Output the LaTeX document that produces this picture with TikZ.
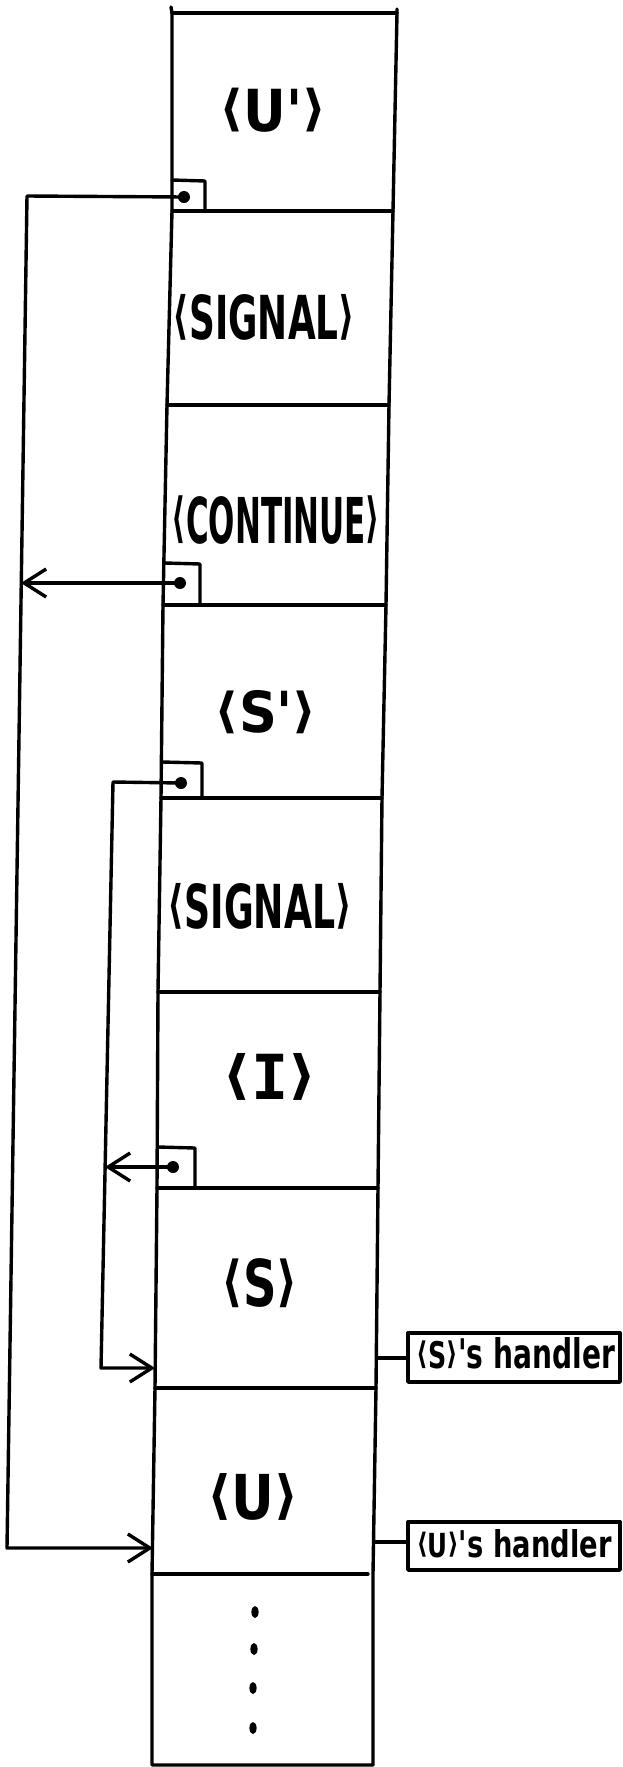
\documentclass[tikz,border=0pt]{standalone}
\usepackage{fontspec}
\usepackage{graphicx}
\setmainfont{DejaVu Sans}
\newfontfamily\monofam{DejaVu Sans Mono}
\usetikzlibrary{arrows.meta}
\newcommand{\lbr}{\raisebox{0.1em}{\scalebox{1}[0.85]{⟨}}}
\newcommand{\rbr}{\raisebox{0.1em}{\scalebox{1}[0.85]{⟩}}}
\newcommand{\celltext}[3]{\resizebox*{#2pt}{#3pt}{\bfseries #1}}
\newcommand{\handtext}[3]{\resizebox{#2pt}{#3pt}{\bfseries #1}}
\begin{document}
\begin{tikzpicture}[x=1pt,y=-1pt,line width=3.4pt,line cap=round,line join=round,
  ptrdot/.style={circle,fill=black,inner sep=0pt,minimum size=12pt},
  lab/.style={inner sep=0pt,anchor=center},
  hlab/.style={inner sep=0pt,anchor=base},
  handler/.style={draw,line width=3.4pt,inner sep=0pt,minimum width=212pt},
  barb/.style={-{Straight Barb[length=22pt,width=28pt,line width=3.4pt]}},
  dotmark/.style={fill=black}]
\useasboundingbox (0,0) rectangle (622,1767);
% column edge coordinates
\coordinate (L0) at (172,13);   \coordinate (R0) at (397,13);
\coordinate (L1) at (172,211);  \coordinate (R1) at (393,211);
\coordinate (L2) at (167,405);  \coordinate (R2) at (389,405);
\coordinate (L3) at (163,605);  \coordinate (R3) at (386,605);
\coordinate (L4) at (161,798);  \coordinate (R4) at (382,798);
\coordinate (L5) at (158,992);  \coordinate (R5) at (380,992);
\coordinate (L6) at (157,1188); \coordinate (R6) at (378,1188);
\coordinate (L7) at (155,1388); \coordinate (R7) at (376,1388);
\coordinate (L8) at (152,1574); \coordinate (R8) at (373,1574);
\coordinate (L9) at (152,1765); \coordinate (R9) at (373,1765);
% column outline
\draw (171,7) -- (L0) -- (L1) -- (L2) -- (L3) -- (L4) -- (L5) -- (L6) -- (L7) -- (L8) -- (L9) -- (R9);
\draw (397,9) -- (R0) -- (R1) -- (R2) -- (R3) -- (R4) -- (R5) -- (R6) -- (R7) -- (R8) -- (R9);
\draw (L0) -- (R0);
\draw (L1) -- (R1);
\draw (L2) -- (R2);
\draw (L3) -- (R3);
\draw (L4) -- (R4);
\draw (L5) -- (R5);
\draw (L6) -- (R6);
\draw (L7) -- (R7);
\draw (L8) -- (368,1574);
% cell labels
\node[lab] (uprime) at (273,110)  {\celltext{\lbr U\textquotesingle\rbr}{107}{44}};
\node[lab] (sig1)   at (264,317)  {\celltext{\lbr SIGNAL\rbr}{182}{46}};
\node[lab] (cont)   at (276,520)  {\celltext{\lbr CONTINUE\rbr}{208}{48}};
\node[lab] (sprime) at (266,712)  {\celltext{\lbr S\textquotesingle\rbr}{102}{43}};
\node[lab] (sig2)   at (260,906)  {\celltext{\lbr SIGNAL\rbr}{184}{46}};
\node[lab] (ilab)   at (270,1077) {\celltext{\lbr{\monofam I}\rbr}{94}{47}};
\node[lab] (slab)   at (260,1283) {\celltext{\lbr S\rbr}{76}{49}};
\node[lab] (ulab)   at (253,1497) {\celltext{\lbr U\rbr}{91}{47}};
% ellipsis dots
\fill[dotmark] (255,1612) ellipse [x radius=3.6pt,y radius=6pt];
\fill[dotmark] (254,1649) ellipse [x radius=3.6pt,y radius=6pt];
\fill[dotmark] (253,1688) ellipse [x radius=3.6pt,y radius=6pt];
\fill[dotmark] (253,1728) ellipse [x radius=3.6pt,y radius=6pt];
% pointer boxes
\draw (172,180) -- (205,181) -- (205,211);
\draw (165,563) -- (200,564) -- (200,605);
\draw (162,762) -- (202,763) -- (202,798);
\draw (158,1147) -- (195,1148) -- (195,1188);
\node[ptrdot] (p1) at (184,197) {};
\node[ptrdot] (p2) at (180,583) {};
\node[ptrdot] (p3) at (181,783) {};
\node[ptrdot] (p4) at (173,1167) {};
% connector coordinates
\coordinate (oTop) at (27,196);
\coordinate (oBot) at (7,1548);
\coordinate (uIn)  at (153,1548);
\coordinate (oHit) at (21,583);
\coordinate (mTop) at (113,782);
\coordinate (mBot) at (101,1368);
\coordinate (sIn)  at (155,1368);
\coordinate (mHit) at (105,1167);
% connectors
\draw[barb] (p1.center) -- (oTop) -- (oBot) -- (uIn);
\draw[barb] (p2.center) -- (oHit);
\draw[barb] (p3.center) -- (mTop) -- (mBot) -- (sIn);
\draw[barb] (p4.center) -- (mHit);
% handlers
\node[handler,minimum height=49pt] (hs) at (514,1357.5) {};
\node[handler,minimum height=48pt] (hu) at (514,1546) {};
\node[hlab] (hstext) at (516,1368) {\handtext{{\small \lbr S\rbr}\textquotesingle s handler}{198}{31}};
\node[hlab] (hutext) at (514,1557) {\handtext{{\small \lbr U\rbr}\textquotesingle s handler}{195}{28}};
\coordinate (cs) at (377,1358);
\coordinate (cu) at (375,1542);
\draw (cs) -- (cs -| hs.west);
\draw (cu) -- (cu -| hu.west);
\end{tikzpicture}
\end{document}
